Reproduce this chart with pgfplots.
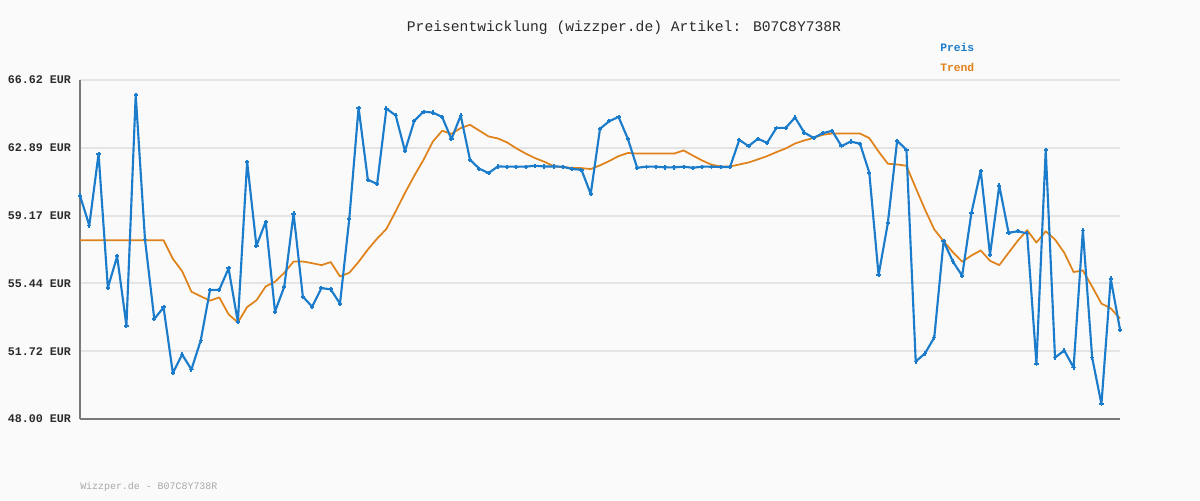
\documentclass[border=0pt]{standalone}
\usepackage{pgfplots}
\pgfplotsset{compat=1.18}
\usepackage{pgfplotstable}
\usepackage{fontspec}
\setmainfont{Liberation Mono}
\setmonofont{Liberation Mono}
\definecolor{bg}{HTML}{FAFAFA}
\definecolor{preis}{HTML}{1B7CCB}
\definecolor{trend}{HTML}{E0821A}
\definecolor{gridc}{HTML}{E4E4E4}
\definecolor{axisc}{HTML}{7A7A7A}
\definecolor{labelc}{HTML}{2A2A2A}
\definecolor{footc}{HTML}{A8A8A8}

\pgfplotstableread{
i preis trend
0 60.27 57.82
1 58.63 57.82
2 62.57 57.82
3 55.21 57.82
4 56.93 57.82
5 53.13 57.82
6 65.80 57.82
7 57.86 57.82
8 53.49 57.82
9 54.13 57.82
10 50.52 56.80
11 51.54 56.12
12 50.72 54.99
13 52.31 54.74
14 55.08 54.50
15 55.10 54.68
16 56.27 53.75
17 53.33 53.30
18 62.13 54.15
19 57.51 54.52
20 58.84 55.28
21 53.90 55.54
22 55.27 56.03
23 59.28 56.65
24 54.72 56.65
25 54.17 56.56
26 55.19 56.45
27 55.12 56.62
28 54.34 55.83
29 58.99 56.03
30 65.10 56.63
31 61.14 57.31
32 60.91 57.91
33 65.05 58.44
34 64.67 59.41
35 62.72 60.42
36 64.38 61.36
37 64.88 62.24
38 64.83 63.24
39 64.59 63.83
40 63.37 63.66
41 64.67 63.98
42 62.24 64.16
43 61.75 63.84
44 61.51 63.52
45 61.87 63.41
46 61.86 63.19
47 61.86 62.86
48 61.86 62.58
49 61.91 62.33
50 61.87 62.13
51 61.87 61.89
52 61.86 61.82
53 61.73 61.80
54 61.69 61.78
55 60.36 61.73
56 63.94 61.93
57 64.36 62.17
58 64.59 62.44
59 63.39 62.61
60 61.80 62.58
61 61.86 62.58
62 61.86 62.58
63 61.82 62.58
64 61.82 62.58
65 61.86 62.75
66 61.80 62.47
67 61.86 62.20
68 61.86 61.97
69 61.84 61.87
70 61.84 61.87
71 63.33 61.98
72 62.99 62.09
73 63.39 62.26
74 63.17 62.44
75 63.99 62.66
76 63.99 62.86
77 64.56 63.13
78 63.73 63.30
79 63.44 63.44
80 63.70 63.61
81 63.83 63.68
82 62.99 63.68
83 63.24 63.68
84 63.12 63.68
85 61.53 63.43
86 55.90 62.69
87 58.77 62.02
88 63.28 61.98
89 62.79 61.91
90 51.16 60.69
91 51.60 59.50
92 52.48 58.41
93 57.77 57.77
94 56.65 57.16
95 55.87 56.64
96 59.32 56.98
97 61.64 57.26
98 57.02 56.69
99 60.82 56.45
100 58.23 57.13
101 58.31 57.80
102 58.19 58.37
103 51.03 57.69
104 62.79 58.31
105 51.38 57.86
106 51.76 57.13
107 50.83 56.07
108 58.35 56.16
109 51.38 55.27
110 48.81 54.34
111 55.71 54.08
112 52.91 53.52
}\datatable

\begin{document}
\begin{tikzpicture}
\fill[bg] (0,0) rectangle (900pt,375pt);
\useasboundingbox (0,0) rectangle (900pt,375pt);
\begin{axis}[
  at={(60pt,60.75pt)}, anchor=south west,
  scale only axis, width=780pt, height=254.25pt,
  xmin=0, xmax=112, ymin=48, ymax=66.62,
  axis x line=bottom, axis y line=left,
  axis line style={-, draw=axisc, line width=1.5pt},
  xtick=\empty,
  ytick={48.00,51.724,55.448,59.172,62.896,66.62},
  yticklabels={48.00 EUR,51.72 EUR,55.44 EUR,59.17 EUR,62.89 EUR,66.62 EUR},
  ytick style={draw=none},
  yticklabel style={font=\fontsize{8.75pt}{10pt}\selectfont\bfseries, text=labelc, inner sep=0pt, anchor=east, xshift=-4.5pt},
  ymajorgrids, grid style={draw=gridc, line width=1.5pt},
  axis background/.style={fill=bg},
  clip=false,
]
\addplot[trend, line width=1.3pt, line join=round] table[x=i, y=trend] {\datatable};
\addplot[preis, line width=1.6pt, line join=round, mark=+, mark size=1.6pt, mark options={line width=1.4pt}] table[x=i, y=preis] {\datatable};
\end{axis}
\node[font=\fontsize{11pt}{13pt}\selectfont, text=labelc] at (468pt,354pt) {Preisentwicklung (wizzper.de) Artikel: B07C8Y738R};
\node[font=\fontsize{8.5pt}{10pt}\selectfont\bfseries, text=preis, anchor=west, inner sep=0pt] at (705pt,339.75pt) {Preis};
\node[font=\fontsize{8.5pt}{10pt}\selectfont\bfseries, text=trend, anchor=west, inner sep=0pt] at (705pt,324.75pt) {Trend};
\node[font=\fontsize{7.45pt}{9pt}\selectfont, text=footc, anchor=west, inner sep=0pt] at (60pt,9.75pt) {Wizzper.de - B07C8Y738R};
\end{tikzpicture}
\end{document}
